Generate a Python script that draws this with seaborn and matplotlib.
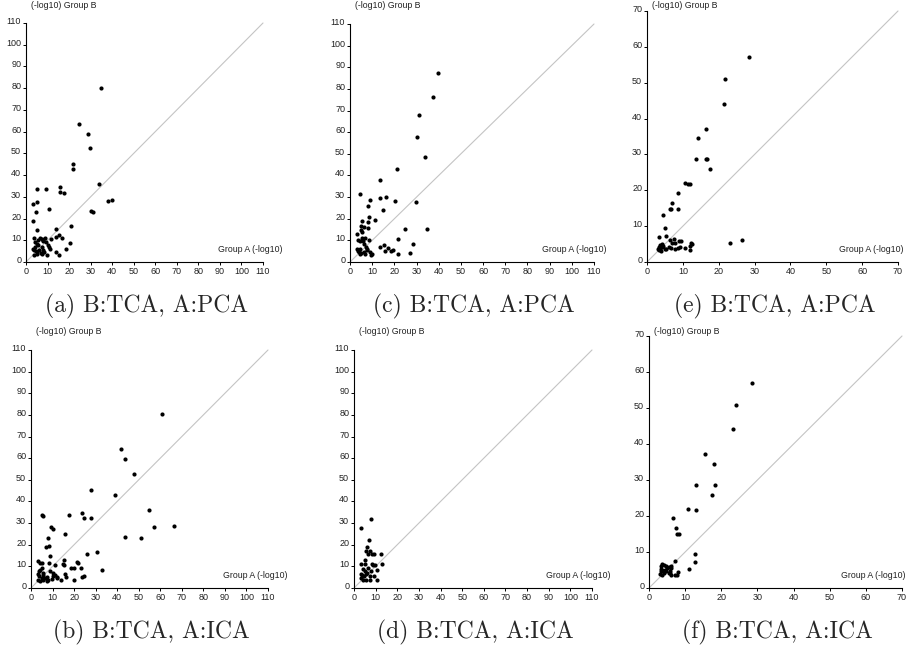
import numpy as np
import pandas as pd
import matplotlib
matplotlib.use("Agg")
import matplotlib.pyplot as plt
import matplotlib.transforms as mtransforms
import seaborn as sns

# ---- data (x = Group A, y = Group B, -log10) ----
a_x = [34.8, 24.7, 28.7, 29.8, 21.8, 21.8, 34.1, 5.1, 9.4, 15.8, 15.9, 17.5, 3.4, 5.1, 10.8, 4.5,
       37.9, 39.9, 30.1, 31.2, 3.2, 4.9, 21.0, 13.9, 15.3, 16.5, 13.7, 11.4, 20.4, 18.5, 13.9, 15.4,
       3.6, 3.4, 4.2, 4.9, 5.7, 6.5, 7.3, 8.0, 8.8, 6.2, 5.3, 7.3, 8.5, 9.6, 3.7, 4.6, 8.0, 10.4,
       11.1, 10.8, 5.7, 4.2, 7.3, 9.3, 6.8, 5.0, 3.9, 7.8]
a_y = [80.0, 63.7, 59.1, 52.5, 44.9, 42.8, 35.8, 33.4, 33.4, 34.6, 32.2, 31.8, 26.9, 27.8, 24.5, 22.9,
       28.0, 28.5, 23.5, 22.9, 18.9, 14.5, 16.5, 15.2, 12.5, 11.2, 11.4, 10.8, 8.9, 6.0, 4.5, 3.2,
       11.2, 6.2, 6.9, 8.5, 10.0, 11.2, 10.8, 10.3, 11.2, 5.4, 3.8, 3.8, 4.6, 3.1, 3.1, 5.1, 5.4, 7.7,
       6.2, 6.9, 7.7, 9.2, 6.9, 9.2, 4.2, 4.4, 5.6, 9.6]

b_x = [60.7, 41.9, 43.7, 48.0, 28.0, 39.1, 54.8, 5.3, 5.6, 17.5, 23.6, 24.7, 27.8, 9.4, 10.4, 57.0,
       66.6, 16.0, 43.4, 51.1, 7.9, 8.5, 6.8, 8.8, 30.7, 25.8, 33.1, 15.1, 14.7, 15.1, 21.2, 21.8,
       11.0, 8.5, 18.5, 20.1, 23.3, 15.6, 16.2, 19.9, 23.6, 24.4, 12.2, 13.7,
       3.2, 4.2, 5.1, 4.9, 4.2, 5.7, 3.2, 3.9, 4.9, 7.3, 8.0, 8.8, 10.4, 10.0, 11.1, 11.9, 3.4, 5.7,
       6.5, 9.6, 7.3, 4.2, 5.4, 3.7]
b_y = [80.3, 64.2, 59.4, 52.8, 45.2, 43.1, 36.0, 33.7, 33.4, 33.7, 34.8, 32.5, 32.2, 28.2, 27.2, 28.2,
       28.8, 24.9, 23.8, 23.1, 23.1, 19.2, 18.8, 14.6, 16.8, 15.5, 8.5, 12.9, 11.1, 10.5, 12.0, 11.4,
       10.5, 11.4, 9.2, 9.2, 9.2, 6.5, 5.2, 3.8, 5.2, 5.5, 5.1, 3.8,
       12.5, 11.4, 11.4, 9.2, 8.5, 6.9, 6.5, 5.4, 4.6, 4.9, 3.8, 7.7, 6.9, 5.4, 6.2, 4.6, 3.8, 3.8,
       4.6, 4.3, 3.1, 3.1, 6.2, 7.7]

c_x = [39.5, 37.6, 30.9, 30.0, 34.0, 21.0, 13.6, 4.3, 13.6, 16.4, 9.0, 20.2, 29.7, 8.3, 14.8, 8.5,
       11.1, 5.6, 8.3, 4.8, 6.2, 8.3, 4.9, 5.6, 3.2, 24.6, 34.6, 21.6, 28.6, 27.0, 21.6, 13.6,
       15.4, 17.3, 15.8, 18.5, 19.5,
       3.4, 4.6, 5.4, 6.9, 8.5, 6.2, 4.3, 3.4, 5.1, 6.9, 9.3, 10.0, 7.7, 6.2, 4.3, 7.4, 3.1, 4.0,
       5.9, 7.7, 9.0]
c_y = [87.3, 76.2, 67.9, 57.6, 48.6, 42.9, 37.8, 31.6, 29.6, 30.1, 28.5, 28.2, 27.6, 25.9, 23.9, 20.8,
       19.6, 19.1, 18.4, 16.7, 16.4, 15.7, 15.0, 14.0, 13.0, 15.3, 15.3, 10.8, 8.2, 4.2, 3.5, 6.9,
       7.7, 6.6, 5.1, 5.1, 5.6,
       10.0, 9.7, 11.3, 11.3, 10.3, 8.5, 6.2, 5.1, 4.2, 3.5, 3.2, 3.9, 6.2, 4.6, 3.5, 6.9, 6.2, 4.6,
       9.7, 5.4, 4.5]

d_x = [7.7, 3.1, 7.1, 6.2, 7.3, 5.6, 6.5, 8.2, 9.4, 12.5, 4.9, 3.1, 5.1, 8.2, 8.8, 9.6, 13.1, 10.8,
       8.0, 6.5, 4.2, 4.9, 3.4, 5.7, 7.3, 9.1, 10.4, 7.6, 5.7, 4.2, 3.1, 4.6, 3.6, 6.2]
d_y = [31.8, 27.8, 22.2, 19.1, 16.9, 17.2, 15.7, 15.5, 15.5, 15.5, 13.1, 11.1, 11.1, 11.2, 10.8, 10.8,
       11.2, 8.5, 8.0, 9.2, 8.8, 7.7, 6.6, 6.5, 5.4, 5.4, 3.8, 3.8, 3.8, 3.8, 4.6, 5.4, 5.8, 6.9]

e_x = [28.5, 21.7, 21.5, 16.5, 14.3, 13.8, 16.5, 16.8, 17.5, 10.7, 11.3, 12.1, 8.6, 6.9, 6.5, 6.7,
       8.6, 4.4, 4.9, 3.4, 5.3, 7.4, 23.1, 26.4,
       6.3, 7.0, 7.9, 8.8, 9.5, 9.3, 7.9, 10.5, 11.9, 12.1, 12.3, 12.6, 8.6, 6.0, 5.1, 4.2, 3.5, 3.3,
       3.5, 4.2, 4.6, 3.9, 5.4, 3.3, 6.7, 3.1]
e_y = [57.1, 51.0, 44.2, 37.1, 34.5, 28.8, 28.8, 28.7, 25.9, 22.0, 21.8, 21.7, 19.3, 16.5, 14.9, 14.8,
       14.8, 13.0, 9.4, 7.1, 7.2, 6.4, 5.4, 6.0,
       6.1, 5.4, 5.4, 5.9, 5.9, 4.2, 3.7, 4.0, 3.4, 4.4, 5.3, 5.1, 3.8, 4.2, 3.7, 4.2, 3.7, 3.3,
       4.7, 5.1, 4.4, 3.1, 3.7, 4.2, 4.0, 3.5]

f_x = [28.4, 24.1, 23.2, 15.4, 18.0, 13.0, 18.2, 17.5, 10.8, 13.0, 6.6, 7.4, 7.7, 8.3, 12.8, 12.6,
       7.2, 11.1, 7.9, 7.8, 6.2, 5.7,
       3.2, 3.4, 3.6, 4.1, 4.6, 5.0, 5.4, 6.1, 3.1, 3.6, 4.2, 4.8, 5.4, 5.8, 6.2, 7.2, 3.7, 4.4, 3.4]
f_y = [56.9, 50.9, 44.1, 37.1, 34.5, 28.7, 28.7, 25.9, 21.9, 21.7, 19.4, 16.6, 15.1, 15.0, 9.5, 7.1,
       7.4, 5.3, 4.4, 3.7, 6.2, 4.2,
       4.6, 6.0, 6.8, 6.5, 6.0, 5.5, 5.7, 5.5, 3.9, 3.5, 4.2, 4.6, 4.2, 4.6, 3.5, 3.5, 5.1, 5.1, 5.4]

captions = ["(a) B:TCA, A:PCA", "(b) B:TCA, A:ICA", "(c) B:TCA, A:PCA",
            "(d) B:TCA, A:ICA", "(e) B:TCA, A:PCA", "(f) B:TCA, A:ICA"]
axis_max = [110, 110, 110, 110, 70, 70]
xlabel = "Group A (-log10)"
ylabel = "(-log10) Group B"

panels = [(a_x, a_y), (b_x, b_y), (c_x, c_y), (d_x, d_y), (e_x, e_y), (f_x, f_y)]

# axes boxes in pixels: left, top, right, bottom
boxes = [(26, 23, 263, 262), (31, 350, 268, 588),
         (350, 24, 594, 262), (354, 350, 592, 588),
         (647, 11, 898, 262), (649, 336, 902, 588)]
W, H = 907, 653

sns.set_style("ticks")
plt.rcParams["font.family"] = ["Liberation Sans", "DejaVu Sans"]

fig = plt.figure(figsize=(W / 100, H / 100), dpi=100)
# y tick labels sit a little above their tick in the original
lift = mtransforms.ScaledTranslation(0, 2.5 / 100, fig.dpi_scale_trans)

for (px, py), cap, lim, (l, t, r, b) in zip(panels, captions, axis_max, boxes):
    ax = fig.add_axes([l / W, 1 - b / H, (r - l) / W, (b - t) / H])
    df = pd.DataFrame({"A": px, "B": py})
    ax.plot([0, lim], [0, lim], color="#c4c4c4", lw=0.8, zorder=1, clip_on=False)
    sns.scatterplot(data=df, x="A", y="B", ax=ax, color="black", s=9, linewidth=0,
                    zorder=3, clip_on=False)
    ax.set_xlim(0, lim)
    ax.set_ylim(0, lim)
    ticks = np.arange(0, lim + 1, 10)
    ax.set_xticks(ticks)
    ax.set_yticks(ticks)
    ax.set_xlabel("")
    ax.set_ylabel("")
    sns.despine(ax=ax)
    for s in ["left", "bottom"]:
        ax.spines[s].set_linewidth(0.8)
        ax.spines[s].set_color("black")
    ax.tick_params(length=2.5, width=0.7, labelsize=6.5, pad=1, colors="black")
    ax.tick_params(labelcolor="#222222")
    for lab in ax.get_yticklabels():
        lab.set_transform(lab.get_transform() + lift)
    ax.patch.set_alpha(0)

    # axis titles placed like the original figure
    fig.text((l + 192) / W, 1 - (b - 13) / H, xlabel, fontsize=6.3, va="center", ha="left",
             color="#222222")
    row_y = 5 if t < 100 else 331
    fig.text((l + 5) / W, 1 - row_y / H, ylabel, fontsize=6.3, va="center", ha="left",
             color="#222222")

    # caption
    fig.text(((l + r) / 2 + 2) / W, 1 - (b + 44) / H, cap, family="cmr10", fontsize=17,
             ha="center", va="center")

plt.savefig("out.png", dpi=100)
